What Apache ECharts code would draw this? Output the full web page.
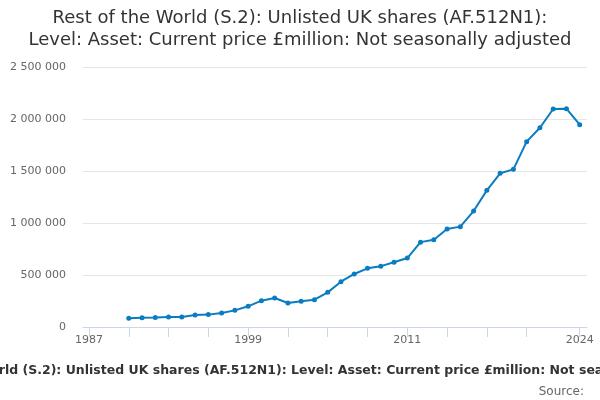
<!DOCTYPE html>
<html><head><meta charset="utf-8">
<script src="https://cdn.jsdelivr.net/npm/echarts@6/dist/echarts.min.js"></script>
<style>html,body{margin:0;padding:0;background:#fff}#c{width:600px;height:400px}</style>
</head><body><div id="c"></div>
<script>
const titleLines = ["Rest of the World (S.2): Unlisted UK shares (AF.512N1):", "Level: Asset: Current price £million: Not seasonally adjusted"];
const seriesName = "Rest of the World (S.2): Unlisted UK shares (AF.512N1): Level: Asset: Current price £million: Not seasonally adjusted";
const years = [1990,1991,1992,1993,1994,1995,1996,1997,1998,1999,2000,2001,2002,2003,2004,2005,2006,2007,2008,2009,2010,2011,2012,2013,2014,2015,2016,2017,2018,2019,2020,2021,2022,2023,2024];
const values = [84000,89000,91000,95000,97000,115000,119000,135000,160000,199000,253000,279000,231000,247000,263000,333000,436000,510000,564000,585000,622000,663000,816000,839000,942000,965000,1115000,1314000,1478000,1516000,1782000,1916000,2096000,2099000,1945000];
const xTicks = [1987,1990,1993,1996,1999,2002,2005,2008,2011,2014,2017,2020,2024];
const xLabels = [1987,1999,2011,2024];
const yTicks = [0,500000,1000000,1500000,2000000,2500000];

const chart = echarts.init(document.getElementById('c'));
chart.setOption({
  animation: false,
  title: [
    {text: titleLines.join('\n'), left: 'center', top: 2,
     textStyle: {fontFamily: 'DejaVu Sans', fontSize: 18, fontWeight: 'normal', color: '#333', lineHeight: 22}},
    {text: seriesName, left: 302, top: 359, textAlign: 'center',
     textStyle: {fontFamily: 'DejaVu Sans', fontSize: 12.5, fontWeight: 'bold', color: '#333'}},
    {text: 'Source:', right: 11, top: 381,
     textStyle: {fontFamily: 'DejaVu Sans', fontSize: 12, fontWeight: 'normal', color: '#666'}}
  ],
  grid: {left: 83, right: 13, top: 67, bottom: 73, containLabel: false},
  xAxis: {
    type: 'value', min: 1986.55, max: 2024.55,
    axisLine: {show: true, lineStyle: {color: '#ccd6eb'}},
    axisTick: {show: true, customValues: xTicks, length: 10, lineStyle: {color: '#ccd6eb'}},
    axisLabel: {customValues: xLabels, color: '#666', fontFamily: 'DejaVu Sans', fontSize: 11, margin: 8,
      formatter: v => String(v)},
    splitLine: {show: false}
  },
  yAxis: {
    type: 'value', min: 0, max: 2500000, interval: 500000,
    axisLine: {show: false}, axisTick: {show: false},
    axisLabel: {color: '#666', fontFamily: 'DejaVu Sans', fontSize: 11, margin: 17,
      formatter: v => String(v).replace(/\B(?=(\d{3})+(?!\d))/g, ' ')},
    splitLine: {lineStyle: {color: '#e6e6e6'}}
  },
  series: [{
    type: 'line', name: seriesName,
    data: years.map((y, i) => [y, values[i]]),
    symbol: 'circle', symbolSize: 5, showSymbol: true,
    lineStyle: {color: '#0a7cc1', width: 2},
    itemStyle: {color: '#0a7cc1'}
  }]
});
</script></body></html>
